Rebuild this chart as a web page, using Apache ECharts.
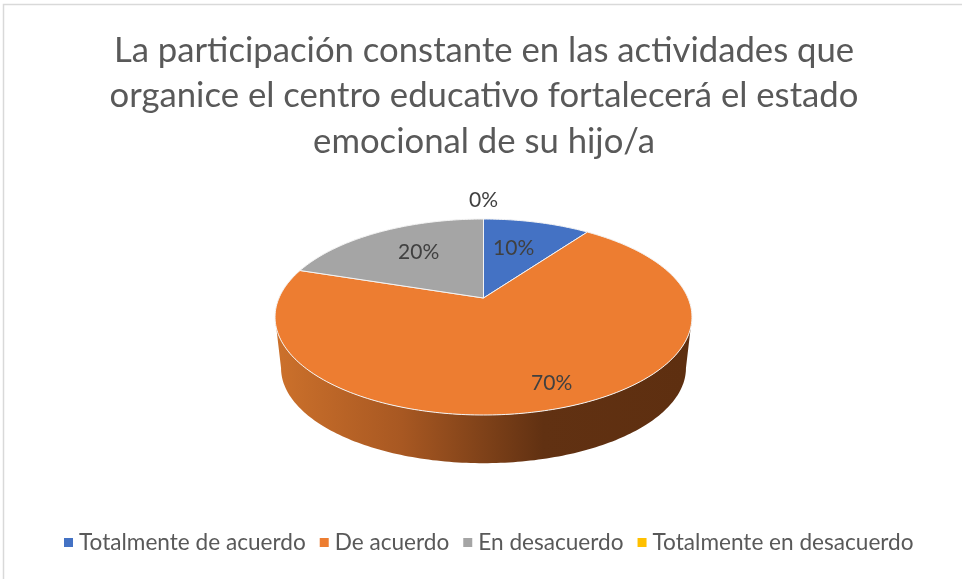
<!DOCTYPE html>
<html>
<head>
<meta charset="utf-8">
<style>
  html, body { margin: 0; padding: 0; background: #fff; overflow: hidden; }
  #chart { width: 962px; height: 579px; }
</style>
<script src="https://cdn.jsdelivr.net/npm/echarts@6/dist/echarts.min.js"></script>
</head>
<body>
<div id="chart"></div>
<script>
const titleLines = [
  'La participación constante en las actividades que',
  'organice el centro educativo fortalecerá el estado',
  'emocional de su hijo/a'
]
const categories = ['Totalmente de acuerdo', 'De acuerdo', 'En desacuerdo', 'Totalmente en desacuerdo']
const values = [10, 70, 20, 0]
const colors = ['#4472C4', '#ED7D31', '#A5A5A5', '#FFC000']

// Perspective of the tilted pie (top face ellipse + apex)
const apex = { x: 483.5, y: 298 }
const topFace = { cx: 483.5, cy: 317, rx: 208.5 }
const bottomFace = { cy: 368, scale: 202.5 / 208.5 }
const planeA = 204.5
const planeB = 94.3
const tilt = 0.194

// Label placement: radius along the middle of the slice, plus a small nudge
const labelRadius = [0.62, 0.81, 0.67, 1.3]
const labelNudge = [[-5, 0], [8, 0], [8, 0], [0, 0]]

const total = values.reduce((a, b) => a + b, 0)
const DEG = Math.PI / 180

// angle (clockwise from 12 o'clock) and radius -> screen point on the top face
const project = (deg, r = 1) => {
  const X = r * Math.sin(deg * DEG)
  const Y = r * Math.cos(deg * DEG)
  const w = 1 + tilt * Y
  return [apex.x + planeA * X / w, apex.y - planeB * Y / w]
}

const toBottom = (p) => [
  topFace.cx + (p[0] - topFace.cx) * bottomFace.scale,
  bottomFace.cy + (p[1] - topFace.cy) * bottomFace.scale
]

const arcPoints = (from, to) => {
  const pts = []
  const steps = Math.max(2, Math.ceil((to - from) / 1))
  for (let i = 0; i <= steps; i++) pts.push(project(from + (to - from) * i / steps))
  return pts
}

// Only the front of the rim is visible
const frontFrom = 90 + Math.asin(tilt) / DEG
const frontTo = 270 - Math.asin(tilt) / DEG

const sideGradient = new echarts.graphic.LinearGradient(280, 0, 685, 0, [
  { offset: 0, color: '#CB702B' },
  { offset: 0.3, color: '#A85822' },
  { offset: 0.65, color: '#613112' },
  { offset: 1, color: '#5E2F10' }
], true)

const makeRenderItem = (index) => (params, api) => {
  const start = values.slice(0, index).reduce((a, b) => a + b, 0) / total * 360
  const sweep = api.value(0) / total * 360
  const end = start + sweep
  const mid = index === 3 ? 0 : start + sweep / 2
  const children = []

  const sideFrom = Math.max(start, frontFrom)
  const sideTo = Math.min(end, frontTo)
  if (sideTo > sideFrom) {
    const rim = arcPoints(sideFrom, sideTo)
    children.push({
      type: 'polygon',
      shape: { points: rim.concat(rim.map(toBottom).reverse()) },
      style: { fill: sideGradient }
    })
  }

  if (sweep > 0) {
    children.push({
      type: 'polygon',
      shape: { points: [[apex.x, apex.y]].concat(arcPoints(start, end)) },
      style: { fill: colors[index], stroke: '#F4F4F4', lineWidth: 1 }
    })
  }

  const anchor = project(mid, labelRadius[index])
  children.push({
    type: 'text',
    z2: 10,
    style: {
      x: anchor[0] + labelNudge[index][0],
      y: anchor[1] + labelNudge[index][1],
      text: Math.round(api.value(0) / total * 100) + '%',
      fill: '#404040',
      font: '21px Lato',
      align: 'center',
      verticalAlign: 'middle'
    }
  })
  return { type: 'group', children }
}

const chart = echarts.init(document.getElementById('chart'), null, { renderer: 'canvas' })

chart.setOption({
  animation: false,
  backgroundColor: '#fff',
  title: {
    text: titleLines.join('\n'),
    left: 479,
    top: 23,
    textAlign: 'center',
    textStyle: {
      color: '#595959',
      fontFamily: 'Lato',
      fontWeight: 'normal',
      fontSize: 34.7,
      lineHeight: 45.5
    }
  },
  legend: {
    bottom: 20,
    left: 59,
    icon: 'rect',
    itemWidth: 9,
    itemHeight: 9,
    itemGap: 14,
    data: categories,
    textStyle: { color: '#595959', fontFamily: 'Lato', fontSize: 22.6, padding: [0, 0, 0, 1] }
  },
  graphic: [{
    type: 'rect',
    silent: true,
    shape: { x: 3.5, y: 4.5, width: 1000, height: 1000 },
    style: { fill: 'none', stroke: '#D9D9D9', lineWidth: 1.5 }
  }],
  series: categories.map((name, i) => ({
    type: 'custom',
    name,
    coordinateSystem: 'none',
    itemStyle: { color: colors[i] },
    renderItem: makeRenderItem(i),
    data: [[values[i]]]
  }))
})

window.addEventListener('resize', () => chart.resize())
</script>
</body>
</html>
